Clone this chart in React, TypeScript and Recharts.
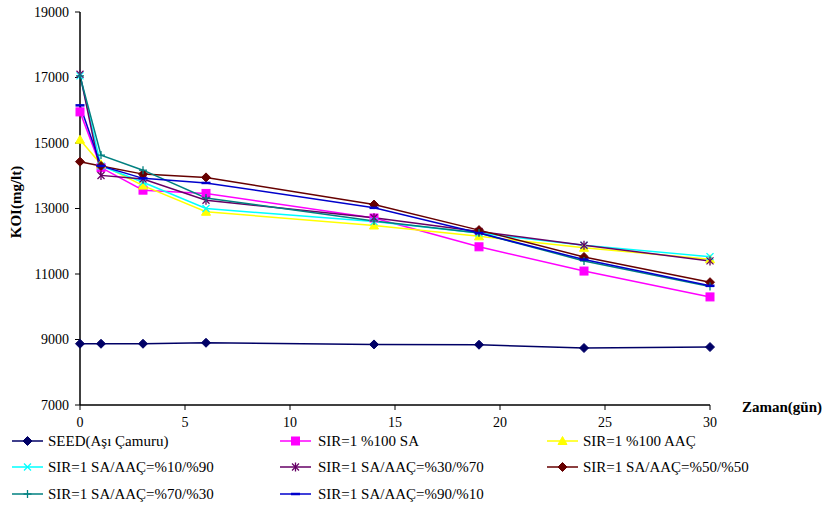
import React from 'react';
import { LineChart, Line, XAxis, YAxis } from 'recharts';

const days = [0, 1, 3, 6, 14, 19, 24, 30];
const seed = [8870, 8870, 8870, 8900, 8850, 8840, 8740, 8770];
const sa100 = [15950, 14250, 13560, 13460, 12710, 11830, 11090, 10300];
const aac100 = [15100, 14350, 13700, 12900, 12480, 12150, 11800, 11450];
const p10_90 = [17050, 14300, 13800, 13000, 12600, 12250, 11880, 11530];
const p30_70 = [17100, 14010, 13900, 13250, 12720, 12300, 11880, 11400];
const p50_50 = [14430, 14300, 14050, 13950, 13120, 12340, 11520, 10750];
const p70_30 = [17050, 14630, 14170, 13320, 12620, 12250, 11400, 10620];
const p90_10 = [16150, 14300, 13920, 13780, 13020, 12250, 11440, 10640];

const xTicks = [0, 5, 10, 15, 20, 25, 30];
const yTicks = [7000, 9000, 11000, 13000, 15000, 17000, 19000];

type Shape = 'diamond' | 'square' | 'triangle' | 'x' | 'asterisk' | 'plus' | 'dash';

const series: { key: string; name: string; color: string; shape: Shape; values: number[] }[] = [
  { key: 'seed', name: 'SEED(Aşı Çamuru)', color: '#000066', shape: 'diamond', values: seed },
  { key: 'sa100', name: 'SIR=1 %100 SA', color: '#FF00FF', shape: 'square', values: sa100 },
  { key: 'aac100', name: 'SIR=1 %100 AAÇ', color: '#FFFF00', shape: 'triangle', values: aac100 },
  { key: 'p10_90', name: 'SIR=1 SA/AAÇ=%10/%90', color: '#00FFFF', shape: 'x', values: p10_90 },
  { key: 'p30_70', name: 'SIR=1 SA/AAÇ=%30/%70', color: '#660066', shape: 'asterisk', values: p30_70 },
  { key: 'p50_50', name: 'SIR=1 SA/AAÇ=%50/%50', color: '#660000', shape: 'diamond', values: p50_50 },
  { key: 'p70_30', name: 'SIR=1 SA/AAÇ=%70/%30', color: '#008080', shape: 'plus', values: p70_30 },
  { key: 'p90_10', name: 'SIR=1 SA/AAÇ=%90/%10', color: '#0000CC', shape: 'dash', values: p90_10 },
];

const data = days.map((d, i) => {
  const row: Record<string, number> = { day: d };
  series.forEach((s) => {
    row[s.key] = s.values[i];
  });
  return row;
});

function marker(shape: Shape, color: string, cx: number, cy: number, key?: React.Key) {
  switch (shape) {
    case 'diamond':
      return <polygon key={key} points={`${cx},${cy - 4.5} ${cx + 4.5},${cy} ${cx},${cy + 4.5} ${cx - 4.5},${cy}`} fill={color} stroke={color} />;
    case 'square':
      return <rect key={key} x={cx - 4} y={cy - 4} width={8} height={8} fill={color} stroke={color} />;
    case 'triangle':
      return <polygon key={key} points={`${cx},${cy - 4.5} ${cx + 4.5},${cy + 3.5} ${cx - 4.5},${cy + 3.5}`} fill={color} stroke={color} />;
    case 'x':
      return (
        <g key={key} stroke={color} strokeWidth={1.3}>
          <line x1={cx - 3.5} y1={cy - 3.5} x2={cx + 3.5} y2={cy + 3.5} />
          <line x1={cx - 3.5} y1={cy + 3.5} x2={cx + 3.5} y2={cy - 3.5} />
        </g>
      );
    case 'asterisk':
      return (
        <g key={key} stroke={color} strokeWidth={1.3}>
          <line x1={cx - 3.5} y1={cy - 3.5} x2={cx + 3.5} y2={cy + 3.5} />
          <line x1={cx - 3.5} y1={cy + 3.5} x2={cx + 3.5} y2={cy - 3.5} />
          <line x1={cx} y1={cy - 4.5} x2={cx} y2={cy + 4.5} />
        </g>
      );
    case 'plus':
      return (
        <g key={key} stroke={color} strokeWidth={1.3}>
          <line x1={cx - 4} y1={cy} x2={cx + 4} y2={cy} />
          <line x1={cx} y1={cy - 4} x2={cx} y2={cy + 4} />
        </g>
      );
    case 'dash':
    default:
      return <line key={key} x1={cx - 4.5} y1={cy} x2={cx + 4.5} y2={cy} stroke={color} strokeWidth={2.5} />;
  }
}

const makeDot = (shape: Shape, color: string) => (props: any) => {
  const { cx, cy, index } = props;
  return marker(shape, color, cx, cy, `d-${index}`);
};

const serif = '"Liberation Serif", "Times New Roman", serif';

const legendCols = [
  { lineX: 12, textX: 48 },
  { lineX: 280, textX: 318 },
  { lineX: 547, textX: 583 },
];
const legendRows = [441, 467, 494];

export default function App() {
  return (
    <div style={{ position: 'absolute', left: 0, top: 0, width: 823, height: 529, background: '#fff' }}>
      <LineChart
        width={823}
        height={529}
        data={data}
        margin={{ top: 12, right: 113, bottom: 0, left: 0 }}
        style={{ fontFamily: serif }}
      >
        <XAxis
          dataKey="day"
          type="number"
          domain={[0, 30]}
          ticks={xTicks}
          height={124}
          stroke="#000"
          tickSize={5}
          tickMargin={7}
          tick={{ fill: '#000', fontSize: 14, fontFamily: serif }}
          axisLine={{ stroke: '#000', strokeWidth: 1.5 }}
          tickLine={{ stroke: '#000' }}
        />
        <YAxis
          type="number"
          domain={[7000, 19000]}
          ticks={yTicks}
          width={80}
          stroke="#000"
          tickSize={5}
          tickMargin={6}
          tick={{ fill: '#000', fontSize: 14, fontFamily: serif }}
          axisLine={{ stroke: '#000', strokeWidth: 1.5 }}
          tickLine={{ stroke: '#000' }}
        />
        {series.map((s) => (
          <Line
            key={s.key}
            dataKey={s.key}
            name={s.name}
            type="linear"
            stroke={s.color}
            strokeWidth={1.5}
            dot={makeDot(s.shape, s.color)}
            activeDot={false}
            isAnimationActive={false}
          />
        ))}
      </LineChart>
      <svg width={823} height={529} style={{ position: 'absolute', left: 0, top: 0, pointerEvents: 'none' }}>
        <text
          x={16}
          y={202}
          transform="rotate(-90 16 202)"
          textAnchor="middle"
          dominantBaseline="central"
          fontFamily={serif}
          fontWeight="bold"
          fontSize={15}
          fill="#000"
        >
          KOI(mg/lt)
        </text>
        <text x={742} y={407} dominantBaseline="central" fontFamily={serif} fontWeight="bold" fontSize={15} fill="#000">
          Zaman(gün)
        </text>
        {series.map((s, i) => {
          const col = legendCols[i % 3];
          const y = legendRows[Math.floor(i / 3)];
          return (
            <g key={s.key}>
              <line x1={col.lineX} y1={y} x2={col.lineX + 31} y2={y} stroke={s.color} strokeWidth={1.5} />
              {marker(s.shape, s.color, col.lineX + 15.5, y)}
              <text x={col.textX} y={y} dominantBaseline="central" fontFamily={serif} fontSize={15} fill="#000">
                {s.name}
              </text>
            </g>
          );
        })}
      </svg>
    </div>
  );
}
